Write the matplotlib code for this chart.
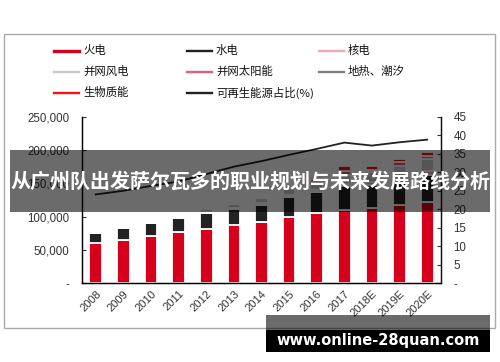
import numpy as np
import matplotlib
matplotlib.use('Agg')
import matplotlib.pyplot as plt
from matplotlib.patches import Rectangle
from matplotlib.lines import Line2D

plt.rcParams['font.family'] = ['Liberation Sans', 'Noto Sans CJK SC', 'DejaVu Sans']

# installed capacity (10MW) by source, plus renewable share (%)
years = ['2008', '2009', '2010', '2011', '2012', '2013', '2014', '2015', '2016',
         '2017', '2018E', '2019E', '2020E']
thermal = [60500, 65250, 71250, 76750, 81750, 86750, 91750, 99250, 105750, 110500, 112500, 117000, 122000]
hydro = [14500, 17250, 18750, 21750, 23250, 24750, 26250, 30250, 30650, 35000, 35500, 34000, 41000]
nuclear = [500, 500, 600, 700, 1250, 1450, 2000, 2700, 3350, 3600, 4500, 5000, 5800]
wind = [300, 400, 500, 600, 5000, 6000, 7500, 10000, 12000, 13000, 14000, 20000, 17000]
solar = [0, 0, 30, 200, 300, 700, 1000, 2500, 5000, 6000, 4000, 5500, 5000]
geo = [3, 3, 3, 3, 3, 3, 3, 3, 3, 3, 3, 3, 3]
biomass = [100, 100, 100, 100, 1200, 1300, 1500, 2000, 3500, 7500, 5000, 5500, 6500]
pct = [24, 25, 26.3, 27.5, 29.5, 31.5, 33, 34.7, 36.3, 38, 37.2, 38.1, 38.8]

names = ['火电', '水电', '核电', '并网风电', '并网太阳能', '地热、潮汐', '生物质能']
colors = ['#d6001c', '#222222', '#f4a7b3', '#cccccc', '#e0607a', '#808080', '#ff1010']
stack = [thermal, hydro, nuclear, wind, solar, geo, biomass]
line_name = '可再生能源占比(%)'

W, H = 500, 362
def fx(px):
    return px / W
def fy(py):
    return 1 - py / H

fig = plt.figure(figsize=(5, 3.62), dpi=100)

ax = fig.add_axes([fx(82), fy(283.3), fx(441) - fx(82), fy(116.7) - fy(283.3)])
x = np.arange(len(years))
bottom = np.zeros(len(years))
for vals, c in zip(stack, colors):
    ax.bar(x, vals, 0.46, bottom=bottom, color=c, edgecolor='white', linewidth=1.3)
    bottom += np.array(vals)

ax.set_xlim(-0.5, len(years) - 0.5)
ax.set_ylim(0, 250000)
ax.set_yticks(range(0, 250001, 50000))
ax.set_yticklabels(['-'] + [f'{v:,}' for v in range(50000, 250001, 50000)])
ax.set_xticks(x)
ax.set_xticklabels(years, rotation=45, ha='right', rotation_mode='anchor')
ax.tick_params(axis='y', direction='in', length=3, labelsize=8.3, colors='#333333', pad=9)
ax.tick_params(axis='x', length=0, labelsize=8, colors='#333333', pad=4)
ax.spines['top'].set_visible(False)
for s in ['left', 'bottom', 'right']:
    ax.spines[s].set_color('#111111')
    ax.spines[s].set_linewidth(1.0)

ax2 = ax.twinx()
ax2.plot(x, pct, color='#222222', linewidth=1.3)
ax2.set_ylim(0, 45)
ax2.set_yticks(range(0, 46, 5))
ax2.set_yticklabels(['-'] + [str(v) for v in range(5, 46, 5)])
ax2.tick_params(axis='y', direction='in', length=3, labelsize=8.3, colors='#333333', pad=9)
ax2.spines['top'].set_visible(False)
ax2.spines['right'].set_color('#111111')

# outer frame
fig.add_artist(Rectangle((fx(3.5), fy(328)), fx(495) - fx(3.5), fy(34) - fy(328),
                         transform=fig.transFigure, fill=False, edgecolor='#aaaaaa', linewidth=1.0))

# legend drawn by hand in three columns
leg_items = [(names[0], colors[0], 2.4), (names[1], colors[1], 1.7), (names[2], colors[2], 1.7),
             (names[3], colors[3], 1.7), (names[4], colors[4], 1.7), (names[5], colors[5], 1.7),
             (names[6], colors[6], 1.7), (line_name, '#222222', 1.7)]
col_x = [54, 187, 319]
row_y = [50.7, 71.7, 92.7]
for i, (lab, c, lw) in enumerate(leg_items):
    cx = col_x[i % 3]
    cy = row_y[i // 3]
    fig.add_artist(Line2D([fx(cx), fx(cx + 25)], [fy(cy), fy(cy)], color=c, linewidth=lw,
                          transform=fig.transFigure))
    fig.text(fx(cx + 29), fy(cy), lab, fontsize=8.2, va='center', ha='left', color='#111111',
             family=['Noto Sans CJK SC', 'DejaVu Sans'])

# title banner over the chart
fig.add_artist(Rectangle((fx(10), fy(211.7)), fx(490) - fx(10), fy(150) - fy(211.7),
                         transform=fig.transFigure, color='black', alpha=0.58, linewidth=0, zorder=5))
fig.text(fx(250), fy(181), '从广州队出发萨尔瓦多的职业规划与未来发展路线分析', fontsize=14.4,
         fontweight='bold', color='white', ha='center', va='center', zorder=6,
         family=['Noto Sans CJK SC', 'DejaVu Sans'])

# watermark
fig.add_artist(Rectangle((fx(266), fy(330)), fx(490) - fx(266), fy(315) - fy(330),
                         transform=fig.transFigure, color='black', alpha=0.58, linewidth=0, zorder=5))
fig.add_artist(Rectangle((fx(266), fy(352)), fx(490) - fx(266), fy(330) - fy(352),
                         transform=fig.transFigure, color='black', linewidth=0, zorder=5))
fig.text(fx(378), fy(341), 'www.online-28quan.com', fontsize=10.5, fontweight='bold',
         color='white', ha='center', va='center', zorder=6, family='DejaVu Sans')

fig.savefig('out.png', dpi=100)
